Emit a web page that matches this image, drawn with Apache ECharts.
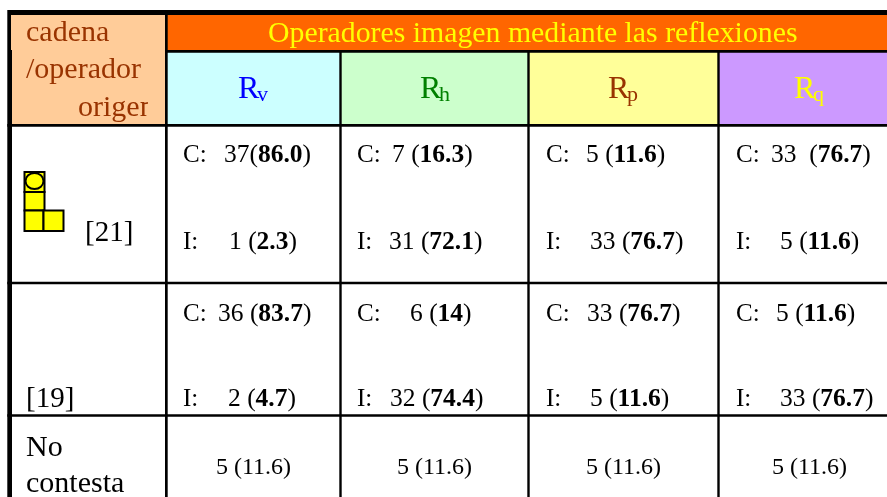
<!DOCTYPE html>
<html>
<head>
<meta charset="utf-8">
<style>
html, body { margin: 0; padding: 0; background: #fff; }
#main { width: 887px; height: 497px; }
</style>
<script src="https://cdn.jsdelivr.net/npm/echarts@6/dist/echarts.min.js"></script>
</head>
<body>
<div id="main"></div>
<script>
// table values
const title = 'Operadores imagen mediante las reflexiones'
const cornerLines = ['cadena', '/operador', 'origen']
const operators = ['v', 'h', 'p', 'q']
const sources = ['[21]', '[19]']
const noAnswerLines = ['No', 'contesta']
const correct = [[37, 7, 5, 33], [36, 6, 33, 5]]
const correctPct = [['86.0', '16.3', '11.6', '76.7'], ['83.7', '14', '76.7', '11.6']]
const incorrect = [[1, 31, 33, 5], [2, 32, 5, 33]]
const incorrectPct = [['2.3', '72.1', '76.7', '11.6'], ['4.7', '74.4', '11.6', '76.7']]
const noAnswer = [5, 5, 5, 5]
const noAnswerPct = ['11.6', '11.6', '11.6', '11.6']

// layout, in pixels of the 887x497 picture
const FONT = '"Liberation Serif", "Times New Roman", serif'
const colLeft = [166.5, 340.5, 528.5, 718.5, 887]
const headFill = ['#CCFFFF', '#CCFFCC', '#FFFF99', '#CC99FF']
const headText = ['#0000FF', '#008000', '#993300', '#FFFF00']
const headR = [238, 420, 608, 794]
const labelX = [183, 357, 546, 736]
const correctX = [[224, 392, 586, 771], [218, 410, 587, 776]]
const incorrectX = [[229, 389, 590, 780], [228, 390, 590, 780]]
const correctY = [163, 322]
const incorrectY = [250, 407]
const noAnswerX = [216, 397, 586, 772]
const gaps = [['', ' ', ' ', '  '], [' ', ' ', ' ', ' ']]

const rects = [
  [11, 14, 166, 126, '#FFCC99'],
  [166, 14, 887, 51, '#FF6600'],
  ...headFill.map((c, i) => [colLeft[i], 51, colLeft[i + 1], 125, c]),
  // black rules
  [7.3, 10, 887, 15, '#000'],
  [7.3, 15, 11, 50, '#000'],
  [7.3, 50, 12, 497, '#000'],
  [165, 15, 167.7, 497, '#000'],
  [339.3, 51, 341.7, 497, '#000'],
  [527.3, 51, 529.7, 497, '#000'],
  [717.3, 51, 719.7, 497, '#000'],
  [165, 50, 887, 52.7, '#000'],
  [7.3, 124, 887, 126.7, '#000'],
  [7.3, 281.7, 887, 284.3, '#000'],
  [7.3, 414.3, 887, 416.7, '#000']
]

const icon = [
  [24.5, 172, 20, 20],
  [24.5, 192, 20, 18.5],
  [24.5, 210.5, 19, 20.5],
  [43.5, 210.5, 20, 20.5]
]

const texts = []
function addText (x, y, size, color, text, rich) {
  texts.push({ x, y, size, color, text, rich })
}
cornerLines.forEach((t, i) => {
  addText([26, 26, 78][i], [42, 79, 117][i], 30, '#993300', t)
})
addText(268, 43, 29.8, '#FFFF00', title)
operators.forEach((s, i) => {
  addText(headR[i], 99, 32, headText[i], 'R')
  addText(headR[i] + 19, 102, 22, headText[i], s)
})
addText(85, 242, 29, '#000', sources[0])
addText(26, 408, 29, '#000', sources[1])
addText(26, 457, 30, '#000', noAnswerLines[0])
addText(26, 493, 30, '#000', noAnswerLines[1])

const valueRich = {
  n: { fontFamily: FONT, fontSize: 25.5, fill: '#000', color: '#000' },
  b: { fontFamily: FONT, fontSize: 25.5, fontWeight: 'bold', fill: '#000', color: '#000' }
}
correct.forEach((row, r) => {
  row.forEach((v, c) => {
    addText(labelX[c], correctY[r], 25, '#000', 'C:')
    addText(correctX[r][c], correctY[r], 25.5, '#000',
      `{n|${v}${gaps[r][c]}(}{b|${correctPct[r][c]}}{n|)}`, valueRich)
    addText(labelX[c], incorrectY[r], 25, '#000', 'I:')
    addText(incorrectX[r][c], incorrectY[r], 25.5, '#000',
      `{n|${incorrect[r][c]} (}{b|${incorrectPct[r][c]}}{n|)}`, valueRich)
  })
})
noAnswer.forEach((v, c) => {
  addText(noAnswerX[c], 475, 24, '#000', `${v} (${noAnswerPct[c]})`)
})

const chart = echarts.init(document.getElementById('main'), null, { renderer: 'canvas' })
chart.setOption({
  animation: false,
  backgroundColor: '#fff',
  grid: { left: 0, right: 0, top: 0, bottom: 0 },
  xAxis: { type: 'value', min: 0, max: 887, show: false },
  yAxis: { type: 'value', min: 0, max: 497, inverse: true, show: false },
  series: [
    {
      type: 'custom',
      silent: true,
      clip: false,
      z: 1,
      data: rects.map(r => r.slice(0, 4)),
      renderItem (params, api) {
        const a = api.coord([api.value(0), api.value(1)])
        const b = api.coord([api.value(2), api.value(3)])
        return {
          type: 'rect',
          shape: { x: a[0], y: a[1], width: b[0] - a[0], height: b[1] - a[1] },
          style: { fill: rects[params.dataIndex][4] }
        }
      }
    },
    {
      // the L piece next to [21]
      type: 'custom',
      silent: true,
      z: 2,
      data: icon,
      renderItem (params, api) {
        const a = api.coord([api.value(0), api.value(1)])
        const children = [{
          type: 'rect',
          shape: { x: a[0], y: a[1], width: api.value(2), height: api.value(3) },
          style: { fill: '#FFFF00', stroke: '#000', lineWidth: 2 }
        }]
        if (params.dataIndex === 0) {
          children.push({
            type: 'ellipse',
            shape: { cx: a[0] + 10, cy: a[1] + 9, rx: 9, ry: 8 },
            style: { fill: '#FFFF00', stroke: '#000', lineWidth: 2 }
          })
        }
        return { type: 'group', children }
      }
    },
    {
      type: 'custom',
      silent: true,
      z: 3,
      data: texts.map(t => [t.x, t.y]),
      renderItem (params, api) {
        const t = texts[params.dataIndex]
        const p = api.coord([api.value(0), api.value(1)])
        return {
          type: 'text',
          x: p[0],
          y: p[1] - t.size * 0.29,
          style: {
            text: t.text,
            rich: t.rich,
            fontFamily: FONT,
            fontSize: t.size,
            fill: t.color,
            align: 'left',
            verticalAlign: 'middle'
          }
        }
      }
    },
    {
      // the n of "origen" is cut off by its cell in the original
      type: 'custom',
      silent: true,
      z: 4,
      data: [[148, 95, 165, 124]],
      renderItem (params, api) {
        const a = api.coord([api.value(0), api.value(1)])
        const b = api.coord([api.value(2), api.value(3)])
        return {
          type: 'rect',
          shape: { x: a[0], y: a[1], width: b[0] - a[0], height: b[1] - a[1] },
          style: { fill: '#FFCC99' }
        }
      }
    }
  ]
})
</script>
</body>
</html>
